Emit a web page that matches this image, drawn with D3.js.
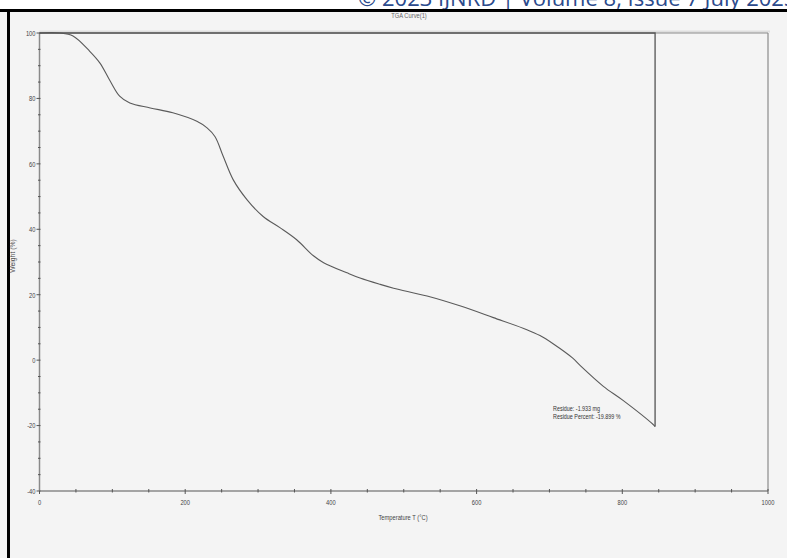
<!DOCTYPE html>
<html><head><meta charset="utf-8">
<script src="https://cdn.jsdelivr.net/npm/d3@7"></script>
<style>html,body{margin:0;padding:0;background:#f4f4f4;overflow:hidden}</style>
</head><body>
<svg id="c" width="787" height="558"></svg>
<script>
// Data
const temperatures = [0, 28, 46, 69, 83, 97, 110, 124, 152, 183, 216, 230, 241, 252, 266, 285, 307, 330, 353, 376, 390, 422, 440, 467, 486, 532, 577, 623, 669, 687, 705, 732, 742, 774, 801, 842, 845];
const weights = [100, 100, 99.1, 94.4, 90.8, 85.3, 80.7, 78.6, 77.1, 75.6, 73, 71, 68.3, 62.4, 55.1, 49, 43.9, 40.5, 36.8, 31.9, 29.8, 26.7, 25.1, 23.2, 22, 19.6, 16.6, 13.0, 9.3, 7.5, 5.0, 0.6, -1.6, -8, -12.3, -19.6, -20.3];
const xTicks = [0, 200, 400, 600, 800, 1000];
const yTicks = [-40, -20, 0, 20, 40, 60, 80, 100];
const xDomain = [0, 1000];
const yDomain = [-40, 100];
const residueLines = ["Residue: -1.933 mg", "Residue Percent: -19.899 %"];
const residueAt = [705, -15.6]; // [temperature, weight] anchor of annotation
const chartTitle = "TGA Curve(1)";
const headerText = "© 2023 IJNRD | Volume 8, Issue 7 July 2023";

const svg = d3.select("#c");
const x = d3.scaleLinear().domain(xDomain).range([39.5, 768]);
const y = d3.scaleLinear().domain(yDomain).range([491, 33]);
const font = "'Liberation Sans',Arial,sans-serif";
const SX = 0.72; // condensed look of the instrument font

function ctext(parent, px, py, str, opts = {}) {
  return parent.append("text")
    .attr("transform", `translate(${px},${py}) scale(${opts.sx || SX},1)`)
    .attr("text-anchor", opts.anchor || "start")
    .attr("dy", opts.dy || null)
    .attr("font-family", font).attr("font-size", opts.size || 8)
    .attr("fill", opts.fill || "#444").text(str);
}

// page background pieces
svg.append("rect").attr("x",0).attr("y",0).attr("width",787).attr("height",558).attr("fill","#f4f4f4");
svg.append("rect").attr("x",0).attr("y",0).attr("width",787).attr("height",10).attr("fill","#ffffff");
svg.append("text").attr("x",358).attr("y",6).attr("fill","#2b4a8c")
  .attr("font-family","'Open Sans','Noto Sans',sans-serif").attr("font-size",22)
  .text(headerText);
svg.append("rect").attr("x",0).attr("y",9).attr("width",787).attr("height",3).attr("fill","#000");
svg.append("rect").attr("x",7).attr("y",9).attr("width",3).attr("height",549).attr("fill","#000");

// chart title (partially hidden under rule)
ctext(svg, 409, 18, chartTitle, {anchor:"middle", size:8, fill:"#666"});

// frame shadow + frame
svg.append("line").attr("x1",x(0)).attr("x2",x(1000)+2).attr("y1",y(100)-1.5).attr("y2",y(100)-1.5)
  .attr("stroke","#dedede").attr("stroke-width",2);
svg.append("line").attr("x1",x(0)).attr("x2",x(1000)).attr("y1",y(100)).attr("y2",y(100))
  .attr("stroke","#8a8a8a").attr("stroke-width",1.2);
svg.append("line").attr("x1",x(1000)).attr("x2",x(1000)).attr("y1",y(100)).attr("y2",y(-40))
  .attr("stroke","#8a8a8a").attr("stroke-width",1.2);

// axes
const gx = svg.append("g").attr("transform",`translate(0,${y(-40)})`);
gx.append("line").attr("x1",x(0)).attr("x2",x(1000)).attr("stroke","#8a8a8a").attr("stroke-width",1.5);
gx.selectAll(".mn").data(d3.range(0,1001,50)).join("line")
  .attr("x1",d=>x(d)).attr("x2",d=>x(d)).attr("y1",-2).attr("y2",d=>d%200===0?3:1.5)
  .attr("stroke","#555").attr("stroke-width",1);
xTicks.forEach(d => ctext(gx, x(d), 14, d, {anchor:"middle"}));

const gy = svg.append("g").attr("transform",`translate(${x(0)},0)`);
gy.append("line").attr("y1",y(-40)).attr("y2",y(100)).attr("stroke","#8a8a8a").attr("stroke-width",1.5);
gy.selectAll(".mn").data(d3.range(-40,101,5)).join("line")
  .attr("y1",d=>y(d)).attr("y2",d=>y(d)).attr("x1",d=>d%20===0?-3:-1.5).attr("x2",1)
  .attr("stroke","#555").attr("stroke-width",1);
yTicks.forEach(d => ctext(gy, -4, y(d), d, {anchor:"end", dy:"0.35em"}));

// axis titles
svg.append("text").attr("transform",`translate(15,256) rotate(-90) scale(0.85,1)`).attr("text-anchor","middle")
  .attr("font-family",font).attr("font-size",8).attr("fill","#444").text("Weight (%)");
ctext(svg, 403, 520, "Temperature T (°C)", {anchor:"middle"});

// curve
const pts = temperatures.map((t,i)=>[t,weights[i]]);
const lastT = temperatures[temperatures.length-1];
const line = d3.line().x(d=>x(d[0])).y(d=>y(d[1])).curve(d3.curveCatmullRom.alpha(0.5));
svg.append("path").attr("d",line(pts)).attr("fill","none").attr("stroke","#5a5a5a").attr("stroke-width",1.1);
// closing segments of the instrument trace
svg.append("path").attr("d",d3.line()([[x(lastT),y(weights[weights.length-1])],[x(lastT),y(100)],[x(0),y(100)]]))
  .attr("fill","none").attr("stroke","#555").attr("stroke-width",1.3);

// annotation
residueLines.forEach((s,i) => ctext(svg, x(residueAt[0]), y(residueAt[1]) + i*8, s, {size:7.5, fill:"#333"}));
</script>
</body></html>
